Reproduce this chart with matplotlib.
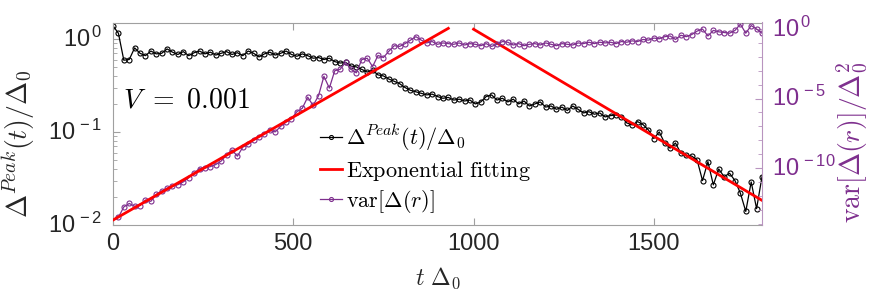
import numpy as np
import matplotlib
matplotlib.use("Agg")
import matplotlib.pyplot as plt
from matplotlib.ticker import FixedLocator, NullFormatter, LogLocator
import matplotlib.transforms as mtrans

plt.rcParams['mathtext.fontset'] = 'cm'
plt.rcParams['mathtext.rm'] = 'Liberation Sans'
plt.rcParams['mathtext.it'] = 'Liberation Sans:italic'
plt.rcParams['mathtext.bf'] = 'Liberation Sans:bold'

# ---------------- data ----------------
t_peak = np.arange(0, 1801, 15)
peak = [1.38, 1.15, 0.59, 0.60, 0.80, 0.70, 0.66, 0.74, 0.69, 0.70,
        0.78, 0.72, 0.68, 0.73, 0.66, 0.71, 0.74, 0.69, 0.72, 0.67,
        0.70, 0.73, 0.68, 0.71, 0.66, 0.74, 0.70, 0.64, 0.69, 0.72,
        0.67, 0.70, 0.74, 0.68, 0.65, 0.69, 0.66, 0.62, 0.63, 0.60,
        0.62, 0.57, 0.55, 0.56, 0.51, 0.50, 0.47, 0.44, 0.46, 0.41,
        0.40, 0.37, 0.35, 0.33, 0.30, 0.28, 0.27, 0.26, 0.25, 0.255,
        0.24, 0.23, 0.235, 0.22, 0.225, 0.215, 0.22, 0.20, 0.21, 0.24,
        0.25, 0.22, 0.23, 0.21, 0.225, 0.20, 0.215, 0.19, 0.20, 0.21,
        0.185, 0.19, 0.175, 0.185, 0.17, 0.19, 0.175, 0.16, 0.165, 0.155,
        0.16, 0.145, 0.15, 0.152, 0.145, 0.125, 0.119, 0.129, 0.12, 0.105,
        0.085, 0.10, 0.076, 0.067, 0.076, 0.059, 0.056, 0.055, 0.050, 0.030,
        0.048, 0.027, 0.040, 0.033, 0.036, 0.030, 0.022, 0.014, 0.029, 0.015,
        0.033]

t_var = np.arange(15, 1801, 15)
var_log10 = np.array([
    -13.55, -12.8, -12.55, -12.75, -12.7, -12.3, -12.4, -11.9, -11.65, -11.45,
    -11.3, -11.2, -11.0, -10.7, -10.35, -10.05, -10.0, -9.9, -9.75, -9.5,
    -9.06, -8.7, -9.15, -8.5, -8.3, -8.0, -7.75, -7.55, -7.3, -7.4,
    -7.0, -6.7, -6.45, -5.95, -5.7, -4.9, -5.5, -4.8, -3.4, -4.25,
    -3.0, -2.9, -2.4, -2.9, -3.15, -2.2, -2.1, -2.7, -1.9, -2.05,
    -1.6, -1.2, -1.25, -1.05, -0.8, -0.55, -0.8, -1.0, -0.9, -1.1,
    -1.0, -1.05, -1.1, -1.0, -1.15, -1.05, -1.1, -1.2, -1.05, -1.25,
    -1.1, -0.9, -0.95, -1.15, -1.05, -1.2, -1.1, -1.05, -1.15, -1.0,
    -1.1, -1.2, -1.05, -1.1, -1.15, -1.0, -1.05, -0.95, -1.05, -0.95,
    -1.0, -0.95, -1.05, -0.9, -0.95, -0.85, -0.9, -0.75, -0.8, -0.65,
    -0.7, -0.55, -0.5, -0.75, -0.45, -0.55, -0.4, -0.15, 0.0, -0.5,
    -0.1, -0.2, -0.25, -0.3, -0.1, 0.35, -0.3, 0.25, 0.0, -0.3])

# exponential fits (endpoints)
fit_var_t = [0, 930]
fit_var_v = [1.8e-14, 1.12]
fit_peak_t = [1000, 1800]
fit_peak_v = [1.27, 0.0184]

xticks = [0, 500, 1000, 1500]
left_ticks = [0.01, 0.1, 1.0]
left_exp = ['-2', '-1', '0']
right_ticks = [1e-10, 1e-5, 1e0]
right_exp = ['-10', '-5', '0']

PURPLE = '#7E2F8E'
PURPLE_LIGHT = '#b894bf'
GRAY = '#a0a0a0'
TXT = '#262626'

# ---------------- figure ----------------
fig = plt.figure(figsize=(8.72, 2.97), dpi=100)
ax = fig.add_axes([113/872, 1-225/297, 649/872, 202.5/297])
ax2 = ax.twinx()

l_peak, = ax.plot(t_peak, peak, '-o', color='black', lw=0.9, ms=3.6,
                  mfc='none', mew=0.8, label=r'$\Delta^{Peak}(t)/\Delta_0$')
ax.plot(fit_peak_t, fit_peak_v, '-', color='red', lw=2.0, zorder=5)

l_var, = ax2.plot(t_var, 10.0**var_log10, '-o', color=PURPLE, lw=0.9, ms=3.6,
                  mfc='none', mew=0.8, label=r'$\mathrm{var}[\Delta(r)]$')
l_fit, = ax2.plot(fit_var_t, fit_var_v, '-', color='red', lw=2.0,
                  label=r'$\mathrm{Exponential\ fitting}$')

ax.set_xlim(0, 1800)
ax.set_yscale('log')
ax.set_ylim(0.01, 1.5)
ax2.set_yscale('log')
ax2.set_ylim(10**-14.1, 10**0.47)

# spines
for s in ['left', 'top', 'bottom']:
    ax.spines[s].set_color(GRAY)
    ax.spines[s].set_linewidth(0.8)
ax.spines['right'].set_visible(False)
for s in ['left', 'top', 'bottom']:
    ax2.spines[s].set_visible(False)
ax2.spines['right'].set_color(PURPLE_LIGHT)
ax2.spines['right'].set_linewidth(0.8)

# x ticks
ax.set_xticks(xticks)
ax.tick_params(axis='x', which='major', direction='in', top=True, bottom=True,
               length=5, width=0.8, color=GRAY, labelsize=17, labelcolor=TXT,
               pad=6, labelfontfamily='Liberation Sans')
ax.tick_params(axis='x', which='minor', bottom=False, top=False)

# left y ticks
ax.yaxis.set_major_locator(FixedLocator(left_ticks))
ax.yaxis.set_minor_locator(LogLocator(base=10, subs=np.arange(2, 10)))
ax.yaxis.set_major_formatter(NullFormatter())
ax.yaxis.set_minor_formatter(NullFormatter())
ax.tick_params(axis='y', which='major', direction='in', left=True, right=False,
               length=5, width=0.8, color=GRAY)
ax.tick_params(axis='y', which='minor', direction='in', left=True, right=False,
               length=3, width=0.6, color=GRAY)

# right y ticks
ax2.yaxis.set_major_locator(FixedLocator(right_ticks))
ax2.yaxis.set_minor_locator(LogLocator(base=10, subs=(1.0,), numticks=40))
ax2.yaxis.set_major_formatter(NullFormatter())
ax2.yaxis.set_minor_formatter(NullFormatter())
ax2.tick_params(axis='y', which='major', direction='in', right=True, left=False,
                length=5, width=0.8, color=PURPLE_LIGHT)
ax2.tick_params(axis='y', which='minor', direction='in', right=True, left=False,
                length=3, width=0.6, color=PURPLE_LIGHT)

# manual log tick labels (MATLAB style)
trl = mtrans.blended_transform_factory(ax.transAxes, ax.transData)
for v, e in zip(left_ticks, left_exp):
    ax.text(-0.016, v, r'$\mathrm{10}^{\,' + e + '}$', transform=trl,
            ha='right', va='center', fontsize=17, color=TXT,
            math_fontfamily='custom')
trr = mtrans.blended_transform_factory(ax2.transAxes, ax2.transData)
for v, e in zip(right_ticks, right_exp):
    ax2.text(1.016, v, r'$\mathrm{10}^{\,' + e + '}$', transform=trr,
             ha='left', va='center', fontsize=17, color=PURPLE,
             math_fontfamily='custom')

# axis labels
ax.set_xlabel(r'$t\ \Delta_0$', fontsize=17, color=TXT)
ax.xaxis.set_label_coords(0.5, -0.20)
ax.set_ylabel(r'$\Delta^{Peak}(t)/\Delta_0$', fontsize=20, color=TXT)
ax.yaxis.set_label_coords(-0.117, 0.40)
ax2.set_ylabel(r'$\mathrm{var}[\Delta(r)]/\Delta_0^2$', fontsize=20, color=PURPLE,
               rotation=90)
ax2.yaxis.set_label_coords(1.113, 0.41)

# annotation
ax.text(0.015, 0.62, r'$V\ =\ 0.001$', transform=ax.transAxes, fontsize=20,
        ha='left', va='center', color='black')

# legend
leg = ax2.legend([l_peak, l_fit, l_var],
                 [l_peak.get_label(), l_fit.get_label(), l_var.get_label()],
                 loc='center left', bbox_to_anchor=(320/872, 1-169/297),
                 bbox_transform=fig.transFigure, frameon=False, fontsize=16,
                 handlelength=1.0, handletextpad=0.15, labelspacing=0.25,
                 borderpad=0, borderaxespad=0, markerscale=0.8)

fig.savefig('out.png', dpi=100)
